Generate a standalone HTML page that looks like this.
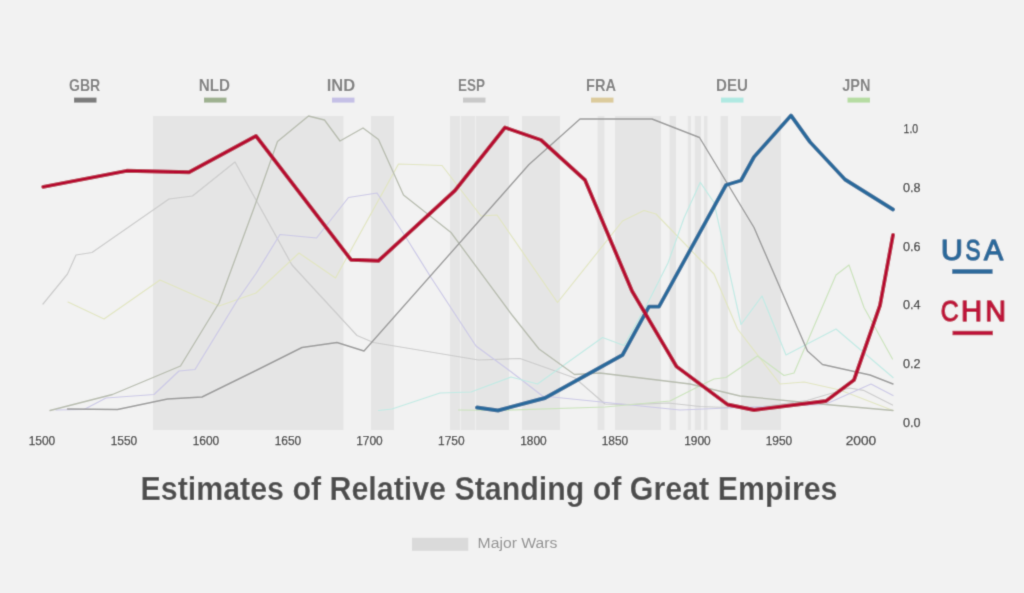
<!DOCTYPE html>
<html><head><meta charset="utf-8"><title>Estimates of Relative Standing of Great Empires</title>
<style>html,body{margin:0;padding:0;background:#f2f2f2;}body{width:1024px;height:593px;overflow:hidden;position:relative;font-family:"Liberation Sans",sans-serif;}svg{position:absolute;left:0;top:0;display:block}text{font-family:"Liberation Sans",sans-serif}</style></head><body>
<svg width="1024" height="593" viewBox="0 0 1024 593">
<defs><filter id="soft" filterUnits="userSpaceOnUse" x="-4" y="-4" width="1032" height="601"><feConvolveMatrix order="3" kernelMatrix="0.0196 0.1008 0.0196 0.1008 0.5184 0.1008 0.0196 0.1008 0.0196" divisor="1" edgeMode="duplicate"/></filter></defs>
<g filter="url(#soft)">
<rect x="-4" y="-4" width="1032" height="601" fill="#f2f2f2"/>
<g fill="#e5e5e5">
<rect x="153.0" y="116" width="190.5" height="314"/>
<rect x="371.0" y="116" width="23.0" height="314"/>
<rect x="450.0" y="116" width="10.2" height="314"/>
<rect x="461.0" y="116" width="14.2" height="314"/>
<rect x="476.0" y="116" width="33.0" height="314"/>
<rect x="522.0" y="116" width="38.0" height="314"/>
<rect x="597.5" y="116" width="7.0" height="314"/>
<rect x="615.0" y="116" width="46.0" height="314"/>
<rect x="669.5" y="116" width="6.5" height="314"/>
<rect x="687.8" y="116" width="3.2" height="314"/>
<rect x="694.8" y="116" width="6.2" height="314"/>
<rect x="704.0" y="116" width="3.5" height="314"/>
<rect x="720.5" y="116" width="7.5" height="314"/>
<rect x="741.0" y="116" width="40.0" height="314"/>
</g>
<g fill="none" stroke-linejoin="round" stroke-linecap="round">
<polyline stroke="#cbcbcb" stroke-width="1.2" points="43.0,304.0 67.5,274.0 76.0,255.0 92.0,252.5 169.0,199.0 192.5,196.0 235.0,162.0 292.0,265.0 357.0,335.5 373.5,342.5 478.5,360.0 520.0,358.5 575.0,378.0 605.0,404.0 630.0,404.7 668.0,403.0 700.0,406.5 727.0,407.5 760.0,407.0 807.0,400.5 849.4,388.0 863.4,390.3 892.5,405.0"/>
<polyline stroke="#e1e5c0" stroke-width="1.2" points="68.0,302.0 104.0,319.0 160.0,280.0 219.0,306.0 256.0,293.0 299.0,253.0 335.5,278.0 398.5,164.0 442.0,165.5 481.0,216.0 497.0,215.0 557.5,302.5 622.5,221.0 644.0,210.5 656.0,214.0 714.0,274.0 737.5,329.0 780.0,384.0 804.0,382.0 840.0,390.0 893.0,410.5"/>
<polyline stroke="#cbc8e6" stroke-width="1.2" points="56.0,410.0 84.0,409.5 106.0,398.0 154.0,394.5 179.0,371.0 195.0,369.5 237.5,300.0 256.0,273.5 280.0,234.5 316.5,238.0 348.5,197.5 377.0,193.0 406.0,237.5 431.0,277.5 476.0,346.0 512.0,372.5 542.5,396.0 680.0,410.0 727.5,408.0 825.0,404.5 871.0,384.0 893.0,395.5"/>
<polyline stroke="#c0eae4" stroke-width="1.2" points="378.5,410.5 392.0,409.0 440.0,393.0 471.0,392.0 511.0,377.0 537.5,384.0 602.5,337.5 624.0,345.5 648.5,301.5 668.0,263.0 684.0,218.0 700.3,182.3 714.0,202.5 741.0,324.5 762.0,296.0 786.0,355.0 836.0,329.0 893.0,377.5"/>
<polyline stroke="#cbe3bc" stroke-width="1.2" points="458.5,410.0 498.0,410.5 605.0,407.0 670.0,401.0 697.5,387.0 714.0,379.0 726.0,377.5 757.5,356.0 784.0,375.5 794.0,373.0 836.0,275.0 849.0,265.0 864.0,307.5 892.5,359.0"/>
<polyline stroke="#b6bbad" stroke-width="1.3" points="50.0,410.5 112.5,394.5 180.5,366.0 219.0,303.0 254.0,208.0 277.5,141.5 308.5,116.0 324.5,120.0 340.0,141.0 363.0,128.0 378.5,139.5 403.5,195.0 451.0,232.5 512.0,315.0 539.0,349.0 574.5,374.5 600.0,373.0 690.0,384.0 740.0,396.0 826.0,404.5 893.0,410.5"/>
<polyline stroke="#999999" stroke-width="1.4" points="67.5,409.0 117.5,409.5 167.5,399.0 202.0,397.0 256.0,370.5 302.0,347.5 337.0,342.5 364.0,351.0 529.0,164.5 580.0,119.0 652.0,119.0 699.5,137.5 754.0,227.5 807.5,351.0 822.5,364.5 870.0,375.0 893.0,384.0"/>
<polyline stroke="#2b6a9b" stroke-width="3.9" points="477.0,407.5 498.0,410.5 545.0,398.0 622.5,355.0 649.0,306.6 659.0,306.6 726.0,185.0 741.0,180.5 754.0,157.0 791.0,115.5 810.0,142.0 845.0,179.5 893.0,209.5"/>
<polyline stroke="#b60b31" stroke-width="3.9" points="43.3,186.8 126.6,170.8 189.0,172.3 256.0,136.0 351.0,259.8 378.5,260.8 455.0,190.5 505.0,127.5 541.0,140.0 585.0,180.0 632.0,291.0 676.5,366.5 727.5,404.5 754.0,410.0 826.0,401.0 854.0,380.0 880.0,305.3 893.0,235.0"/>
</g>
<g font-size="16.2" font-weight="bold" fill="#818181">
<text x="69.0" y="90.9" textLength="31.3" lengthAdjust="spacingAndGlyphs">GBR</text>
<text x="198.7" y="90.9" textLength="31.3" lengthAdjust="spacingAndGlyphs">NLD</text>
<text x="326.7" y="90.9" textLength="28.5" lengthAdjust="spacingAndGlyphs">IND</text>
<text x="458.0" y="90.9" textLength="27" lengthAdjust="spacingAndGlyphs">ESP</text>
<text x="586.0" y="90.9" textLength="30" lengthAdjust="spacingAndGlyphs">FRA</text>
<text x="716.0" y="90.9" textLength="32" lengthAdjust="spacingAndGlyphs">DEU</text>
<text x="842.2" y="90.9" textLength="28.2" lengthAdjust="spacingAndGlyphs">JPN</text>
</g>
<rect x="74.0" y="97.6" width="22.5" height="5" fill="#7b7b7b"/>
<rect x="204.0" y="97.6" width="22.5" height="5" fill="#9eb190"/>
<rect x="332.0" y="97.6" width="22.5" height="5" fill="#c5c0e6"/>
<rect x="463.0" y="97.6" width="22.5" height="5" fill="#c9c9c9"/>
<rect x="591.0" y="97.6" width="22.5" height="5" fill="#dccb9c"/>
<rect x="721.0" y="97.6" width="22.5" height="5" fill="#b0e9e2"/>
<rect x="847.5" y="97.6" width="22.5" height="5" fill="#b6dca2"/>
<g font-size="13.4" fill="#363636" stroke="#363636" stroke-width="0.25" text-anchor="middle">
<text x="42.0" y="445.3" textLength="26.5" lengthAdjust="spacingAndGlyphs">1500</text>
<text x="124.0" y="445.3" textLength="26.5" lengthAdjust="spacingAndGlyphs">1550</text>
<text x="206.0" y="445.3" textLength="26.5" lengthAdjust="spacingAndGlyphs">1600</text>
<text x="288.0" y="445.3" textLength="26.5" lengthAdjust="spacingAndGlyphs">1650</text>
<text x="369.5" y="445.3" textLength="26.5" lengthAdjust="spacingAndGlyphs">1700</text>
<text x="451.3" y="445.3" textLength="26.5" lengthAdjust="spacingAndGlyphs">1750</text>
<text x="533.5" y="445.3" textLength="26.5" lengthAdjust="spacingAndGlyphs">1800</text>
<text x="615.0" y="445.3" textLength="26.5" lengthAdjust="spacingAndGlyphs">1850</text>
<text x="697.5" y="445.3" textLength="26.5" lengthAdjust="spacingAndGlyphs">1900</text>
<text x="779.0" y="445.3" textLength="26.5" lengthAdjust="spacingAndGlyphs">1950</text>
<text x="861.0" y="445.3" textLength="30.5" lengthAdjust="spacingAndGlyphs">2000</text>
</g>
<g font-size="13.4" fill="#363636" stroke="#363636" stroke-width="0.25">
<text x="903.6" y="132.6" textLength="14.6" lengthAdjust="spacingAndGlyphs">1.0</text>
<text x="903" y="192.0" textLength="17.6" lengthAdjust="spacingAndGlyphs">0.8</text>
<text x="903" y="250.7" textLength="17.6" lengthAdjust="spacingAndGlyphs">0.6</text>
<text x="903" y="309.1" textLength="17.6" lengthAdjust="spacingAndGlyphs">0.4</text>
<text x="903" y="367.9" textLength="17.6" lengthAdjust="spacingAndGlyphs">0.2</text>
<text x="903" y="426.7" textLength="17.6" lengthAdjust="spacingAndGlyphs">0.0</text>
</g>
<g font-size="28.6" stroke-width="1.5" stroke-linejoin="round">
<text y="259.6" fill="#2d6b9b" stroke="#2d6b9b"><tspan x="941.1" textLength="21.8" lengthAdjust="spacingAndGlyphs">U</tspan><tspan x="965.4" textLength="15" lengthAdjust="spacingAndGlyphs">S</tspan><tspan x="984.1" textLength="19.1" lengthAdjust="spacingAndGlyphs">A</tspan></text>
<text y="321.1" fill="#be183c" stroke="#be183c"><tspan x="940.7" textLength="17.9" lengthAdjust="spacingAndGlyphs">C</tspan><tspan x="961" textLength="21.1" lengthAdjust="spacingAndGlyphs">H</tspan><tspan x="985.2" textLength="20.7" lengthAdjust="spacingAndGlyphs">N</tspan></text>
</g>
<rect x="952.2" y="269.2" width="40.4" height="4.6" fill="#2d6b9b"/>
<rect x="952.5" y="330.8" width="40.4" height="4.4" fill="#be183c"/>
<text x="140.5" y="499.9" font-size="32.9" font-weight="bold" fill="#4d4d4d" textLength="697" lengthAdjust="spacingAndGlyphs">Estimates of Relative Standing of Great Empires</text>
<rect x="412" y="537.8" width="56.3" height="13" fill="#dadada"/>
<text x="477.6" y="547.7" font-size="15.4" fill="#909090" textLength="79.8" lengthAdjust="spacingAndGlyphs">Major Wars</text>
</g>
</svg></body></html>
